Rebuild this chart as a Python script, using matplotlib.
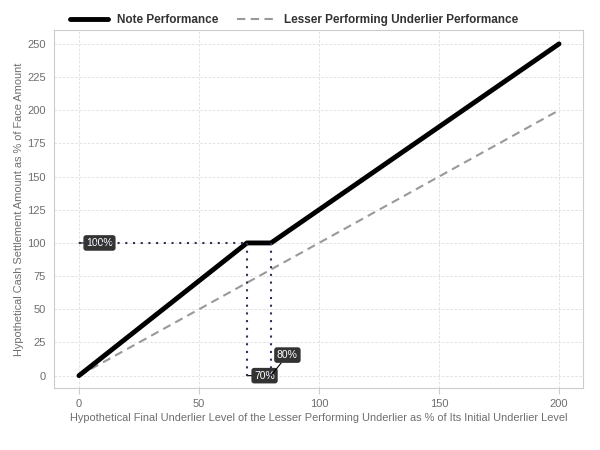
import matplotlib.pyplot as plt
import numpy as np

plt.rcParams['font.family'] = ['Liberation Sans', 'DejaVu Sans']

# data
under_x = [0, 200]
under_y = [0, 200]
note_x = [0, 70, 80, 200]
note_y = [0, 100, 100, 250]
barrier = 70
cap_end = 80
face = 100

fig = plt.figure(figsize=(6, 4.5), dpi=100)
ax = fig.add_axes([0.09, 0.1378, 0.8817, 0.7956])

ax.plot(note_x, note_y, color='black', lw=3.5, solid_capstyle='round',
        label='Note Performance', zorder=4)
ax.plot(under_x, under_y, color='#999999', lw=1.5, ls=(0, (4, 2.6)),
        label='Lesser Performing Underlier Performance', zorder=3)

dot = dict(color='#2b3350', lw=1.5, ls=(0, (1, 2.7)), zorder=5)
ax.plot([0, barrier], [face, face], **dot)
ax.plot([barrier, barrier], [face, 0], **dot)
ax.plot([cap_end, cap_end], [face, 0], **dot)

box = dict(boxstyle='round,pad=0.2,rounding_size=0.2', fc='#333333', ec='#333333')
arrow = dict(arrowstyle='-', color='black', lw=0.8, shrinkA=0, shrinkB=0)
ax.annotate('100%', xy=(0, face), xytext=(3, face), color='white', fontsize=7.5,
            va='center', ha='left', bbox=box, arrowprops=arrow)
ax.annotate('70%', xy=(barrier, 0), xytext=(73, 0), color='white', fontsize=7.5,
            va='center', ha='left', bbox=box, arrowprops=arrow)
ax.annotate('80%', xy=(cap_end, 0), xytext=(82.5, 15.5), color='white', fontsize=7.5,
            va='center', ha='left', bbox=box, arrowprops=arrow)

ax.set_xlim(-10.4, 210)
ax.set_ylim(-9.3, 260.5)
ax.set_xticks([0, 50, 100, 150, 200])
ax.set_yticks(np.arange(0, 251, 25))
ax.tick_params(axis='x', length=4, color='#cccccc', labelsize=8, labelcolor='#6e6e6e', pad=4)
ax.tick_params(axis='y', length=0, labelsize=8, labelcolor='#6e6e6e', pad=6)
ax.grid(True, color='#dddddd', ls=(0, (3, 2)), lw=0.6)
ax.set_axisbelow(True)
for s in ax.spines.values():
    s.set_color('#cccccc')
    s.set_linewidth(0.8)

ax.set_xlabel('Hypothetical Final Underlier Level of the Lesser Performing Underlier as % of Its Initial Underlier Level',
              fontsize=7.9, color='#6e6e6e', labelpad=3)
ax.set_ylabel('Hypothetical Cash Settlement Amount as % of Face Amount',
              fontsize=7.9, color='#6e6e6e', labelpad=2)

leg = fig.legend(loc='center', bbox_to_anchor=(0.49, 0.955), ncol=2, frameon=False,
                 prop=dict(size=8.5, weight='bold'), handlelength=3.3, columnspacing=1.6,
                 handletextpad=0.7)
for t in leg.get_texts():
    t.set_color('#333333')

fig.savefig('out.png', dpi=100)
